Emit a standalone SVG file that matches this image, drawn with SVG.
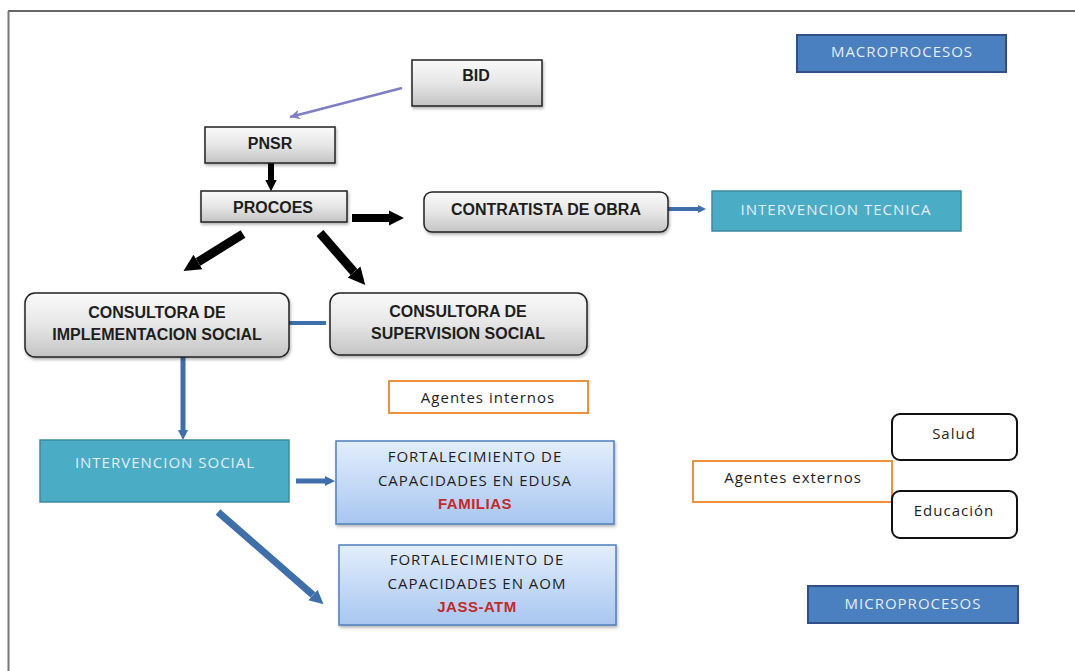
<svg xmlns="http://www.w3.org/2000/svg" width="1075" height="671" viewBox="0 0 1075 671">
<defs>
<style>
.b{font-family:"Liberation Sans",Arial,sans-serif;font-weight:bold;font-size:16px;fill:#1e1e1e;text-anchor:middle}
.r{font-family:"Open Sans","Liberation Sans",sans-serif;font-size:15px;letter-spacing:1px;fill:#1e1e1e;text-anchor:middle}
.w{font-family:"Open Sans","Liberation Sans",sans-serif;font-size:15px;letter-spacing:1px;fill:#e4eef6;text-anchor:middle}
.red{fill:#c62828;font-weight:bold;font-family:"Liberation Sans",Arial,sans-serif;letter-spacing:0.5px}
.gray{fill:url(#gg);stroke:#222;stroke-width:1.5;filter:url(#sh)}
.teal{fill:#4bacc6;stroke:#3b8aa2;stroke-width:1.5}
.navy{fill:#4a7fc0;stroke:#2f4f86;stroke-width:2}
.lb{fill:url(#bg);stroke:#4f7fbd;stroke-width:1.5;filter:url(#sh)}
.or{fill:#fff;stroke:#f0913a;stroke-width:2}
.bk{fill:#fff;stroke:#111;stroke-width:2}
.ka{stroke:#000;fill:none;marker-end:url(#ah)}
.ba{stroke:#3f6faa;fill:none;marker-end:url(#bh)}
</style>
<linearGradient id="gg" x1="0" y1="0" x2="0" y2="1">
<stop offset="0" stop-color="#fafafa"/><stop offset="0.5" stop-color="#e6e6e6"/><stop offset="1" stop-color="#c4c4c4"/>
</linearGradient>
<linearGradient id="bg" x1="0" y1="0" x2="0" y2="1">
<stop offset="0" stop-color="#e3eefc"/><stop offset="1" stop-color="#a8c6f0"/>
</linearGradient>
<filter id="sh" x="-10%" y="-10%" width="120%" height="130%">
<feDropShadow dx="1" dy="2" stdDeviation="1.5" flood-color="#000" flood-opacity="0.3"/>
</filter>
<marker id="ah" viewBox="0 0 10 10" refX="0" refY="5" markerWidth="1.9" markerHeight="2.2" orient="auto" markerUnits="strokeWidth">
<path d="M0,0 L10,5 L0,10 z" fill="#000"/>
</marker>
<marker id="bh" viewBox="0 0 10 10" refX="0" refY="5" markerWidth="2" markerHeight="2.4" orient="auto" markerUnits="strokeWidth">
<path d="M0,0 L10,5 L0,10 z" fill="#3f6faa"/>
</marker>
<marker id="ph" viewBox="0 0 10 10" refX="10" refY="5" markerWidth="12" markerHeight="10" orient="auto" markerUnits="userSpaceOnUse">
<path d="M0,0 L10,5 L0,10 L3,5 z" fill="#7f7fc6"/>
</marker>
</defs>
<rect width="1075" height="671" fill="#fff"/>
<g id="frame">
<line x1="8" y1="11" x2="1075" y2="11" stroke="#333" stroke-width="1.5"/>
<line x1="8.5" y1="11" x2="8.5" y2="671" stroke="#777" stroke-width="2"/>
</g>
<g id="connectors">
<line x1="402" y1="88" x2="290" y2="117" stroke="#7f7fc6" stroke-width="2.5" marker-end="url(#ph)"/>
<line class="ka" x1="271" y1="163" x2="271" y2="180" stroke-width="6"/>
<line class="ka" x1="352" y1="218" x2="389" y2="218" stroke-width="8"/>
<line class="ka" x1="243" y1="234" x2="198" y2="262" stroke-width="9"/>
<line class="ka" x1="320" y1="233" x2="354" y2="272" stroke-width="9"/>
<line class="ba" x1="668" y1="209" x2="698" y2="209" stroke-width="4"/>
<line x1="289" y1="323" x2="326" y2="323" stroke="#3f6faa" stroke-width="4"/>
<line class="ba" x1="183" y1="357" x2="183" y2="430" stroke-width="5"/>
<line class="ba" x1="296" y1="481" x2="325" y2="481" stroke-width="5"/>
<line class="ba" x1="218" y1="512" x2="313" y2="595" stroke-width="7"/>
</g>
<g id="macro"><rect class="navy" x="797" y="35" width="209" height="37"/><text class="w" x="902" y="57">MACROPROCESOS</text></g>
<g id="bid"><rect class="gray" x="412" y="60" width="130" height="46"/><text class="b" x="476" y="81">BID</text></g>
<g id="pnsr"><rect class="gray" x="205" y="127" width="130" height="36"/><text class="b" x="270" y="149">PNSR</text></g>
<g id="procoes"><rect class="gray" x="201" y="191" width="146" height="31"/><text class="b" x="273" y="213">PROCOES</text></g>
<g id="contratista"><rect class="gray" x="424" y="192" width="244" height="40" rx="8"/><text class="b" x="546" y="215">CONTRATISTA DE OBRA</text></g>
<g id="int-tecnica"><rect class="teal" x="712" y="191" width="249" height="40"/><text class="w" x="836" y="215">INTERVENCION TECNICA</text></g>
<g id="cons-impl"><rect class="gray" x="25" y="293" width="264" height="64" rx="10"/><text class="b" x="157" y="318">CONSULTORA DE</text><text class="b" x="157" y="340">IMPLEMENTACION SOCIAL</text></g>
<g id="cons-sup"><rect class="gray" x="330" y="293" width="257" height="62" rx="10"/><text class="b" x="458" y="317">CONSULTORA DE</text><text class="b" x="458" y="339">SUPERVISION SOCIAL</text></g>
<g id="ag-internos"><rect class="or" x="389" y="381" width="199" height="32"/><text class="r" x="488" y="403">Agentes internos</text></g>
<g id="int-social"><rect class="teal" x="40" y="440" width="249" height="62"/><text class="w" x="165" y="468">INTERVENCION SOCIAL</text></g>
<g id="fort-edusa"><rect class="lb" x="336" y="441" width="278" height="83"/><text class="r" x="475" y="462">FORTALECIMIENTO DE</text><text class="r" x="475" y="486">CAPACIDADES EN EDUSA</text><text class="r red" x="475" y="509">FAMILIAS</text></g>
<g id="fort-aom"><rect class="lb" x="339" y="545" width="277" height="80"/><text class="r" x="477" y="565">FORTALECIMIENTO DE</text><text class="r" x="477" y="589">CAPACIDADES EN AOM</text><text class="r red" x="477" y="612">JASS-ATM</text></g>
<g id="ag-externos"><rect class="or" x="693" y="461" width="199" height="41"/><text class="r" x="793" y="483">Agentes externos</text></g>
<g id="salud"><rect class="bk" x="892" y="414" width="125" height="46" rx="8"/><text class="r" x="954" y="439">Salud</text></g>
<g id="educacion"><rect class="bk" x="892" y="491" width="125" height="47" rx="8"/><text class="r" x="954" y="516">Educación</text></g>
<g id="micro"><rect class="navy" x="808" y="586" width="210" height="37"/><text class="w" x="913" y="609">MICROPROCESOS</text></g>
</svg>
